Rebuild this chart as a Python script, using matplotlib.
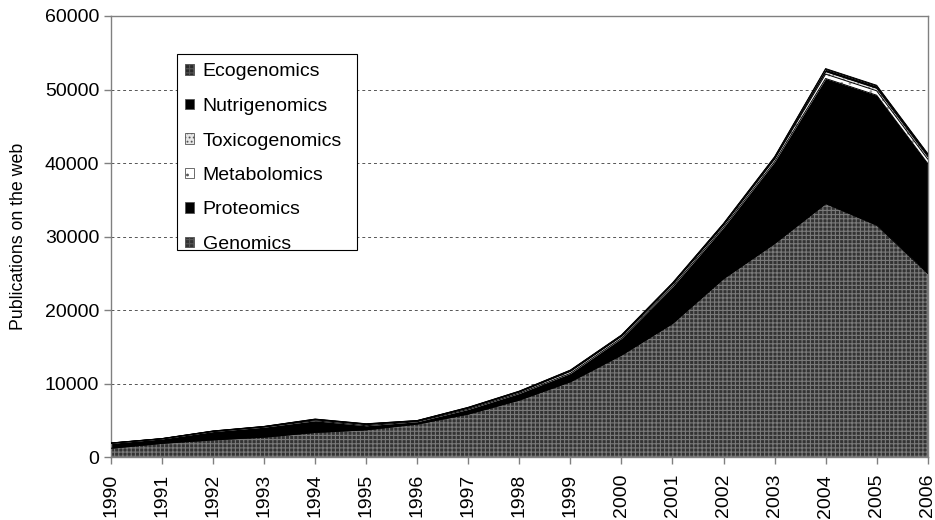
import matplotlib
matplotlib.use("Agg")
import matplotlib.pyplot as plt
from matplotlib.patches import Rectangle, Patch
import numpy as np

plt.rcParams['font.family'] = ['Liberation Sans', 'DejaVu Sans']
plt.rcParams['hatch.linewidth'] = 0.8

years = list(range(1990, 2007))
genomics = [1230, 1900, 2370, 2740, 3380, 3740, 4520, 5880, 7790, 10280,
            13900, 18200, 24300, 29080, 34500, 31560, 25000]
proteomics = [670, 600, 1130, 1360, 1590, 550, 320, 640, 900, 1130,
              2270, 4980, 6950, 11090, 17000, 17670, 14950]
metabolomics = [20, 20, 30, 50, 120, 150, 80, 150, 170, 250,
                250, 280, 280, 350, 600, 600, 600]
toxicogenomics = [10, 10, 20, 20, 50, 60, 40, 60, 70, 100,
                  100, 120, 130, 160, 350, 350, 350]
nutrigenomics = [10, 10, 20, 20, 40, 40, 30, 50, 50, 70,
                 70, 80, 90, 120, 300, 300, 300]
ecogenomics = [10, 10, 10, 10, 20, 20, 10, 20, 20, 30,
               30, 40, 40, 50, 100, 100, 100]
series_names = ["Genomics", "Proteomics", "Metabolomics",
                "Toxicogenomics", "Nutrigenomics", "Ecogenomics"]
y_ticks = [0, 10000, 20000, 30000, 40000, 50000, 60000]

W, H = 935, 520
L, R, T, B = 111, 927.7, 16, 457.3
fig = plt.figure(figsize=(W/100, H/100), dpi=100)
ax = fig.add_axes([L/W, 1-B/H, (R-L)/W, (B-T)/H])

data = [genomics, proteomics, metabolomics, toxicogenomics, nutrigenomics, ecogenomics]
styles = [
    dict(facecolor='#333333', hatch='++++', hcolor='#7a7a7a'),
    dict(facecolor='black', hatch=None, hcolor='black'),
    dict(facecolor='white', hatch='..', hcolor='#9a9a9a'),
    dict(facecolor='#e6e6e6', hatch='....', hcolor='#888888'),
    dict(facecolor='black', hatch=None, hcolor='black'),
    dict(facecolor='#2a2a2a', hatch='++++', hcolor='#6a6a6a'),
]

x = np.array(years)
base = np.zeros(len(years))
handles = []
for vals, name, st in zip(data, series_names, styles):
    top = base + np.array(vals)
    ax.fill_between(x, base, top, facecolor=st['facecolor'],
                    edgecolor=st['hcolor'], hatch=st['hatch'],
                    linewidth=0, label=name, zorder=2)
    ax.plot(x, top, color='black', linewidth=0.7, zorder=3)
    handles.append(Patch(facecolor=st['facecolor'], hatch=st['hatch'],
                         edgecolor='#555555', linewidth=0.6))
    base = top

ax.set_xlim(1990, 2006)
ax.set_ylim(0, 60000)
ax.set_yticks(y_ticks)
ax.set_yticklabels([str(v) for v in y_ticks], fontsize=14)
ax.set_xticks(years)
ax.set_xticklabels([str(y) for y in years], rotation=90, fontsize=14)
ax.set_ylabel("Publications on the web", fontsize=12.8)
ax.yaxis.set_label_coords(-(L-27)/(R-L), 0.5)

ax.set_axisbelow(True)
ax.yaxis.grid(True, color='#555555', linestyle=(0, (3, 3)), linewidth=0.7)
for s in ax.spines.values():
    s.set_color('#808080')
    s.set_linewidth(1.0)
ax.tick_params(axis='both', direction='out', length=5, color='#808080', width=1.0)
ax.tick_params(axis='x', pad=7)

# legend box (Excel style: larger top padding)
box = Rectangle((177/W, 1-250/H), 180/W, 196/H, transform=fig.transFigure,
                facecolor='white', edgecolor='black', linewidth=0.8, zorder=4)
ax.add_patch(box)
leg = ax.legend(handles[::-1], series_names[::-1], loc='upper left',
                bbox_to_anchor=(185/W, 1-63.5/H), bbox_transform=fig.transFigure,
                fontsize=14, frameon=False,
                handlelength=0.45, handleheight=0.45,
                handletextpad=0.46, labelspacing=0.9, borderpad=0,
                borderaxespad=0)
leg.set_zorder(5)

fig.savefig("out.png", dpi=100, facecolor='white')
